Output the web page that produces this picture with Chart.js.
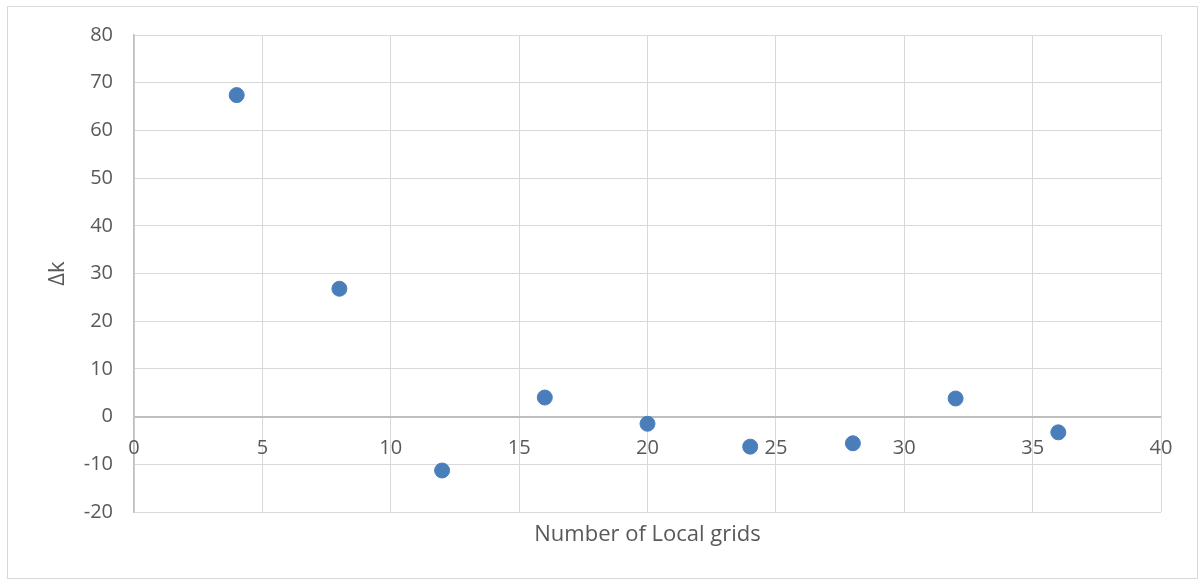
<!DOCTYPE html>
<html>
<head>
<meta charset="utf-8">
<title>Delta k vs Number of Local grids</title>
<script src="https://cdn.jsdelivr.net/npm/chart.js"></script>
<style>
  html, body { margin: 0; padding: 0; background: #fff; }
  #wrap { width: 1198px; height: 579px; position: relative; }
</style>
</head>
<body>
<div id="wrap"><canvas id="chart"></canvas></div>
<script>
// data
var gridCounts = [4, 8, 12, 16, 20, 24, 28, 32, 36];
var deltaK = [67.4, 26.8, -11.3, 4.0, -1.5, -6.3, -5.6, 3.8, -3.3];
var xTicks = [0, 5, 10, 15, 20, 25, 30, 35, 40];
var yTicks = [-20, -10, 0, 10, 20, 30, 40, 50, 60, 70, 80];

var textColor = '#595959';
var fontFamily = "'Open Sans', sans-serif";

var points = [];
for (var i = 0; i < gridCounts.length; i++) {
  points.push({ x: gridCounts[i], y: deltaK[i] });
}

// outer frame of the chart
var framePlugin = {
  id: 'frame',
  beforeDraw: function(chart) {
    var c = chart.ctx;
    c.save();
    c.strokeStyle = '#d9d9d9';
    c.lineWidth = 1;
    c.strokeRect(7.5, 6.5, chart.width - 8, chart.height - 7);
    c.restore();
  }
};

// x labels sit just under the zero line, Excel style
var xLabelPlugin = {
  id: 'xLabels',
  afterDraw: function(chart) {
    var c = chart.ctx;
    var xs = chart.scales.x, ys = chart.scales.y;
    var y0 = ys.getPixelForValue(0);
    c.save();
    c.fillStyle = textColor;
    c.font = '20px ' + fontFamily;
    c.textAlign = 'center';
    c.textBaseline = 'middle';
    xTicks.forEach(function(v) {
      c.fillText(String(v), xs.getPixelForValue(v), y0 + 32);
    });
    c.restore();
  }
};

new Chart(document.getElementById('chart'), {
  type: 'scatter',
  data: {
    datasets: [{
      data: points,
      backgroundColor: '#4a7ebb',
      borderColor: '#4a7ebb',
      pointRadius: 7.5,
      pointHoverRadius: 7.5
    }]
  },
  options: {
    responsive: true,
    maintainAspectRatio: false,
    animation: false,
    layout: { padding: { top: 35, right: 37, left: 0, bottom: 0 } },
    plugins: { legend: { display: false }, tooltip: { enabled: false } },
    scales: {
      x: {
        type: 'linear',
        min: 0, max: 40,
        afterBuildTicks: function(s) { s.ticks = xTicks.map(function(v) { return { value: v }; }); },
        afterFit: function(s) { s.height = 67; },
        ticks: { display: false },
        grid: { color: '#d9d9d9', lineWidth: 1, drawTicks: false },
        border: { display: false },
        title: {
          display: true,
          text: 'Number of Local grids',
          color: textColor,
          font: { family: fontFamily, size: 22 },
          padding: { top: 6, bottom: 31 }
        }
      },
      y: {
        type: 'linear',
        min: -20, max: 80,
        afterBuildTicks: function(s) { s.ticks = yTicks.map(function(v) { return { value: v }; }); },
        afterFit: function(s) { s.width = 134; },
        ticks: {
          color: textColor,
          font: { family: fontFamily, size: 20 },
          padding: 21
        },
        grid: {
          color: function(ctx) { return ctx.tick && ctx.tick.value === 0 ? '#bfbfbf' : '#d9d9d9'; },
          lineWidth: function(ctx) { return ctx.tick && ctx.tick.value === 0 ? 2 : 1; },
          drawTicks: false
        },
        border: { display: true, color: '#bfbfbf', width: 1.5 },
        title: {
          display: true,
          text: 'Δk',
          color: textColor,
          font: { family: fontFamily, size: 22 },
          padding: { top: 45, bottom: 0 }
        }
      }
    }
  },
  plugins: [framePlugin, xLabelPlugin]
});
</script>
</body>
</html>
